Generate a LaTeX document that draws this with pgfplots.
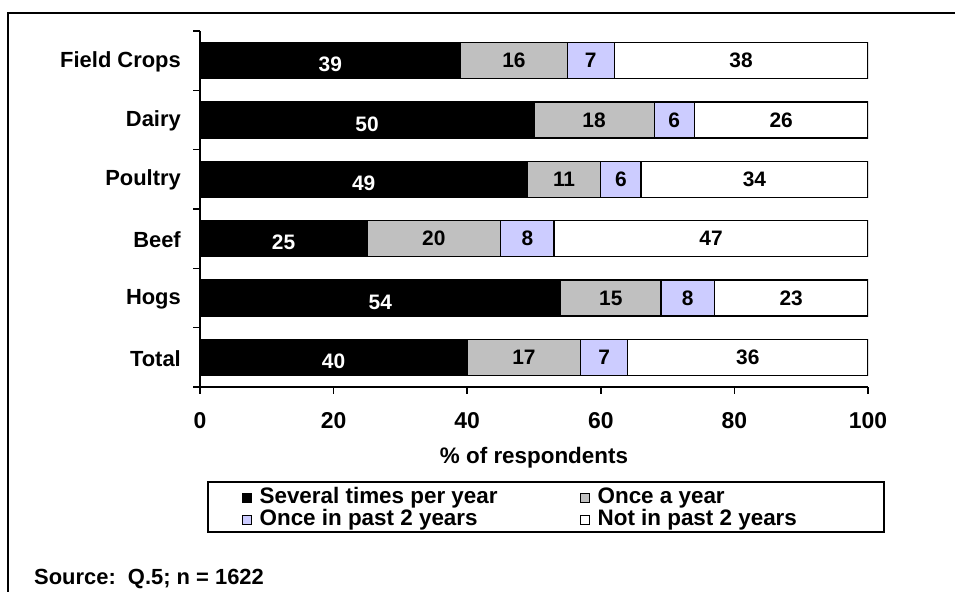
\documentclass[border=0pt]{standalone}
\usepackage{pgfplots}
\pgfplotsset{compat=1.18}
\usepackage{pgfplotstable}
\usepackage{fontspec}
\setmainfont{Liberation Sans}
\definecolor{grayseg}{HTML}{C0C0C0}
\definecolor{lavseg}{HTML}{CCCCFF}
\pgfplotstableread{
y a b c d
0 40 17 7 36
1 54 15 8 23
2 25 20 8 47
3 49 11 6 34
4 50 18 6 26
5 39 16 7 38
}\data
\begin{document}
\begin{tikzpicture}[x=1bp,y=1bp]
\useasboundingbox (0,0) rectangle (955,592);
\clip (0,0) rectangle (955,592);
% outer frame (right and bottom edges lie outside the picture)
\draw[line width=2bp] (8,-20) -- (8,579) -- (980,579);
\begin{axis}[
  at={(200bp,205bp)}, anchor=south west,
  scale only axis, width=668bp, height=356bp,
  xbar stacked, bar width=36bp,
  xmin=0, xmax=100, ymin=-0.5, ymax=5.5,
  enlargelimits=false,
  axis x line*=bottom, axis y line*=left,
  axis line style={line width=1.6bp, -},
  xtick={0,20,...,100},
  ytick={0,...,5},
  yticklabels={Total,Hogs,Beef,Poultry,Dairy,Field Crops},
  minor ytick={-0.5,0.5,...,5.5},
  major tick length=7bp, minor tick length=7bp,
  tick align=outside,
  tick style={line width=1.6bp, black},
  major y tick style={draw=none},
  /pgf/number format/assume math mode=true,
  xticklabel style={font=\bfseries\fontsize{23}{26}\selectfont, inner sep=0pt, yshift=-18bp},
  yticklabel style={font=\bfseries\fontsize{22}{25}\selectfont, inner sep=0pt, xshift=-12bp, yshift=-1bp},
  xlabel={\% of respondents},
  xlabel style={font=\bfseries\fontsize{22.5}{26}\selectfont, at={(axis description cs:0.5,0)}, anchor=center, yshift=-71bp},
  legend columns=2,
  legend style={draw=none, fill=none, at={(rel axis cs:0.062,-0.281)}, anchor=north west,
    inner sep=0pt, font=\bfseries\fontsize{22.5}{25}\selectfont, row sep=0pt, column sep=0pt,
    nodes={inner xsep=3bp, inner ysep=0pt, text height=16bp, text depth=6bp}},
  legend cell align=left,
  legend image code/.code={\draw[#1, line width=1bp] (0bp,-4.5bp) rectangle (9bp,4.5bp);},
  point meta=explicit,
  nodes near coords={\pgfmathprintnumber[fixed,precision=0]{\pgfplotspointmeta}},
  every node near coord/.append style={anchor=center, font=\bfseries\fontsize{21}{24}\selectfont},
]
\addplot[fill=black, draw=black, line width=1.3bp,
  every node near coord/.append style={white, yshift=-4bp}]
  table[x=a, y=y, meta=a]{\data};
\addplot[fill=grayseg, draw=black, line width=1.3bp,
  every node near coord/.append style={black}]
  table[x=b, y=y, meta=b]{\data};
\addplot[fill=lavseg, draw=black, line width=1.3bp,
  every node near coord/.append style={black}]
  table[x=c, y=y, meta=c]{\data};
\addplot[fill=white, draw=black, line width=1.3bp,
  every node near coord/.append style={black}]
  table[x=d, y=y, meta=d]{\data};
\legend{\makebox[322bp][l]{\hspace{5bp}Several times per year},\hspace{5bp}Once a year,\hspace{5bp}Once in past 2 years,\hspace{5bp}Not in past 2 years}
\end{axis}
\draw[line width=1.6bp] (208,60) rectangle (884,110);
\node[anchor=base west, font=\bfseries\fontsize{22}{25}\selectfont, inner sep=0pt] at (34,7) {Source:\ \ Q.5; n = 1622};
\end{tikzpicture}
\end{document}
